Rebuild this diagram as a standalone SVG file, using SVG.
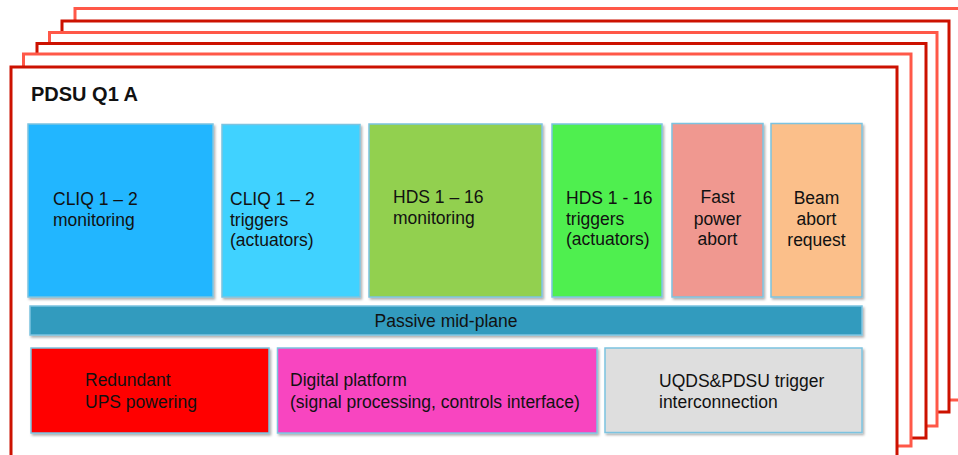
<svg xmlns="http://www.w3.org/2000/svg" width="958" height="455" viewBox="0 0 958 455">
  <style>
    .frame { fill: #ffffff; stroke-width: 3; }
    .dark { stroke: #cc1100; }
    .light { stroke: #ff5848; }
    .box { stroke: #7cc3e0; stroke-width: 1.5; filter: url(#shadow); }
    .lbl { font-family: "Liberation Sans", Arial, sans-serif; font-size: 17.5px; fill: #111111; }
    .mid { text-anchor: middle; }
    .title { font-family: "Liberation Sans", Arial, sans-serif; font-size: 20px; font-weight: bold; fill: #111111; }
  </style>
  <defs>
    <filter id="shadow" x="-5%" y="-5%" width="115%" height="120%">
      <feDropShadow dx="1.5" dy="2" stdDeviation="1.2" flood-color="#000000" flood-opacity="0.3"/>
    </filter>
  </defs>

  <rect width="958" height="455" fill="#ffffff"/>

  <!-- stacked unit frames, back to front -->
  <g id="frames">
    <rect class="frame light" x="75" y="8.5" width="900" height="391.5"/>
    <rect class="frame dark" x="62" y="21" width="887" height="391"/>
    <rect class="frame light" x="49.5" y="32.5" width="887.5" height="393.5"/>
    <rect class="frame dark" x="37" y="43.5" width="889" height="394.5"/>
    <rect class="frame light" x="23.5" y="54" width="887.5" height="392"/>
    <rect class="frame dark" x="11" y="67" width="886" height="400"/>
  </g>

  <g id="title">
    <text class="title" x="31" y="101">PDSU Q1 A</text>
  </g>

  <g id="cliq-monitoring">
    <rect class="box" x="28" y="124" width="185" height="173" fill="#22b6ff"/>
    <text class="lbl" x="53" y="205">CLIQ 1 – 2</text>
    <text class="lbl" x="53" y="225.5">monitoring</text>
  </g>

  <g id="cliq-triggers">
    <rect class="box" x="222" y="124.5" width="138" height="172.5" fill="#40d2ff"/>
    <text class="lbl" x="230" y="205">CLIQ 1 – 2</text>
    <text class="lbl" x="230" y="225.5">triggers</text>
    <text class="lbl" x="230" y="246">(actuators)</text>
  </g>

  <g id="hds-monitoring">
    <rect class="box" x="369" y="124" width="173" height="173" fill="#92d050"/>
    <text class="lbl" x="393" y="203">HDS 1 – 16</text>
    <text class="lbl" x="393" y="223.5">monitoring</text>
  </g>

  <g id="hds-triggers">
    <rect class="box" x="552" y="124" width="110" height="173" fill="#50ef50"/>
    <text class="lbl" x="566" y="204">HDS 1 - 16</text>
    <text class="lbl" x="566" y="224.5">triggers</text>
    <text class="lbl" x="566" y="245">(actuators)</text>
  </g>

  <g id="fast-power-abort">
    <rect class="box" x="672" y="123.5" width="91" height="173.5" fill="#f09890"/>
    <text class="lbl mid" x="717.5" y="203">Fast</text>
    <text class="lbl mid" x="717.5" y="224.5">power</text>
    <text class="lbl mid" x="717.5" y="245">abort</text>
  </g>

  <g id="beam-abort-request">
    <rect class="box" x="771" y="123.5" width="91" height="173.5" fill="#fbbf8a"/>
    <text class="lbl mid" x="816.5" y="204">Beam</text>
    <text class="lbl mid" x="816.5" y="225">abort</text>
    <text class="lbl mid" x="816.5" y="245.5">request</text>
  </g>

  <g id="mid-plane">
    <rect class="box" x="30" y="306" width="832" height="29" fill="#329bbe"/>
    <text class="lbl mid" x="446" y="327">Passive mid-plane</text>
  </g>

  <g id="ups-powering">
    <rect class="box" x="31" y="348" width="238" height="85" fill="#ff0000"/>
    <text class="lbl" x="85" y="386">Redundant</text>
    <text class="lbl" x="85" y="408">UPS powering</text>
  </g>

  <g id="digital-platform">
    <rect class="box" x="277.5" y="348" width="319.5" height="85" fill="#f845c0"/>
    <text class="lbl" x="290" y="386">Digital platform</text>
    <text class="lbl" x="290" y="408">(signal processing, controls interface)</text>
  </g>

  <g id="trigger-interconnection">
    <rect class="box" x="605" y="348" width="257" height="84.5" fill="#dedede"/>
    <text class="lbl" x="659" y="386.5">UQDS&amp;PDSU trigger</text>
    <text class="lbl" x="659" y="407.5">interconnection</text>
  </g>
</svg>
